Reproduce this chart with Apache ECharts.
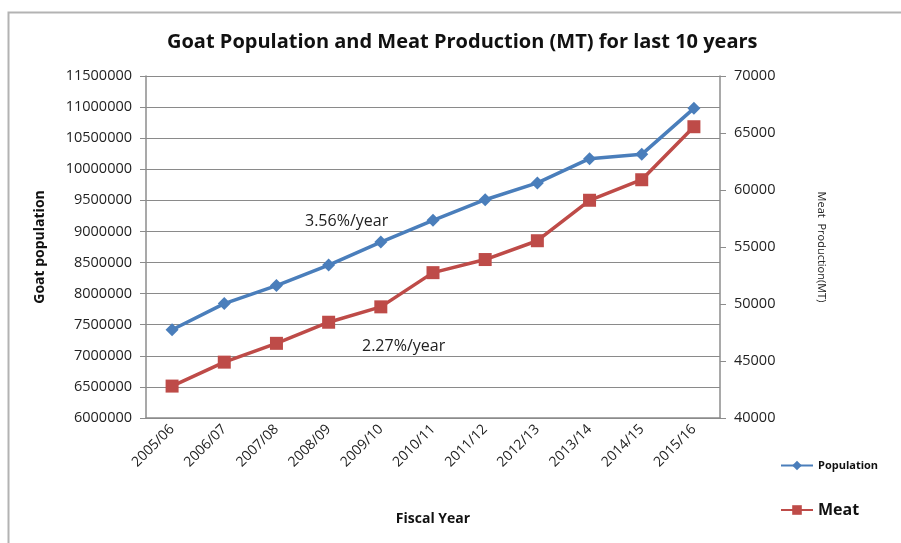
<!DOCTYPE html>
<html>
<head>
<meta charset="utf-8">
<script src="https://cdn.jsdelivr.net/npm/echarts@6/dist/echarts.min.js"></script>
<style>
  html, body { margin: 0; padding: 0; background: #fff; }
  #chart { width: 901px; height: 543px; }
</style>
</head>
<body>
<div id="chart"></div>
<script>
// Fiscal years on the category axis
const fiscalYears = ['2005/06', '2006/07', '2007/08', '2008/09', '2009/10', '2010/11',
                     '2011/12', '2012/13', '2013/14', '2014/15', '2015/16'];
// Goat population (head count), left axis
const population = [7420000, 7840000, 8130000, 8460000, 8830000, 9180000,
                    9510000, 9780000, 10170000, 10240000, 10980000];
// Goat meat production (MT), right axis
const meat = [42800, 44900, 46550, 48400, 49750, 52750,
              53900, 55550, 59100, 60900, 65550];
// Average growth rates written on the plot
const popGrowth = '3.56%/year';
const meatGrowth = '2.27%/year';

const FONT = 'Open Sans';
const BLUE = '#4A7EBB';
const RED = '#BE4B48';
const AXIS_GREY = '#8c8c8c';

// plain integers, no thousands separators
const plain = v => String(Math.round(v));

const chart = echarts.init(document.getElementById('chart'), null, { renderer: 'canvas' });

chart.setOption({
  backgroundColor: '#ffffff',
  animation: false,
  title: {
    text: 'Goat Population and Meat Production (MT) for last 10 years',
    left: 162,
    top: 27,
    textStyle: { fontFamily: FONT, fontWeight: 'bold', fontSize: 20, color: '#111' }
  },
  legend: [
    {
      data: ['Population'],
      left: 775, top: 455,
      itemWidth: 32, itemHeight: 12,
      itemGap: 10,
      textStyle: { fontFamily: FONT, fontWeight: 'bold', fontSize: 11, color: '#111' }
    },
    {
      data: ['Meat'],
      left: 775, top: 497,
      itemWidth: 32, itemHeight: 12,
      textStyle: { fontFamily: FONT, fontWeight: 'bold', fontSize: 16, color: '#111' }
    }
  ],
  grid: { left: 146, right: 181, top: 76, bottom: 125, containLabel: false },
  xAxis: {
    type: 'category',
    data: fiscalYears,
    boundaryGap: true,
    name: 'Fiscal Year',
    nameLocation: 'middle',
    nameGap: 94,
    nameTextStyle: { fontFamily: FONT, fontWeight: 'bold', fontSize: 14, color: '#111' },
    axisLine: { lineStyle: { color: AXIS_GREY, width: 1.5 } },
    axisTick: { show: false },
    axisLabel: { rotate: 45, margin: 9, fontFamily: FONT, fontSize: 14, color: '#222', interval: 0 }
  },
  yAxis: [
    {
      type: 'value',
      min: 6000000, max: 11500000, interval: 500000,
      name: 'Goat population',
      nameLocation: 'middle',
      nameGap: 99,
      nameRotate: 90,
      nameTextStyle: { fontFamily: FONT, fontWeight: 'bold', fontSize: 14, color: '#111' },
      axisLine: { show: true, lineStyle: { color: AXIS_GREY, width: 1.5 } },
      axisTick: { show: true, length: 6, lineStyle: { color: AXIS_GREY } },
      axisLabel: { margin: 14, fontFamily: FONT, fontSize: 14.5, color: '#222', formatter: plain },
      splitLine: { show: true, lineStyle: { color: '#8a8a8a', width: 1.2 } }
    },
    {
      type: 'value',
      position: 'right',
      min: 40000, max: 70000, interval: 5000,
      name: 'Meat  Production(MT)',
      nameLocation: 'middle',
      nameGap: 96,
      nameRotate: -90,
      nameTextStyle: { fontFamily: FONT, fontSize: 11, color: '#222' },
      axisLine: { show: true, lineStyle: { color: AXIS_GREY, width: 1.5 } },
      axisTick: { show: true, length: 6, lineStyle: { color: AXIS_GREY } },
      axisLabel: { margin: 14, fontFamily: FONT, fontSize: 14.5, color: '#222', formatter: plain },
      splitLine: { show: false }
    }
  ],
  series: [
    {
      name: 'Population',
      type: 'line',
      yAxisIndex: 0,
      data: population,
      color: BLUE,
      symbol: 'diamond',
      symbolSize: 13,
      showAllSymbol: true,
      lineStyle: { width: 3.5, color: BLUE },
      itemStyle: { color: BLUE }
    },
    {
      name: 'Meat',
      type: 'line',
      yAxisIndex: 1,
      data: meat,
      color: RED,
      symbol: 'rect',
      symbolSize: 13,
      showAllSymbol: true,
      lineStyle: { width: 3.5, color: RED },
      itemStyle: { color: RED }
    }
  ],
  graphic: [
    {
      type: 'polyline',
      silent: true,
      shape: { points: [[8.5, 560], [8.5, 12.5], [920, 12.5]] },
      style: { fill: 'none', stroke: '#b3b3b3', lineWidth: 2 }
    },
    {
      type: 'text',
      left: 305, top: 213,
      style: { text: popGrowth, fontFamily: FONT, fontSize: 16, fill: '#222' }
    },
    {
      type: 'text',
      left: 362, top: 338,
      style: { text: meatGrowth, fontFamily: FONT, fontSize: 16, fill: '#222' }
    }
  ]
});
</script>
</body>
</html>
